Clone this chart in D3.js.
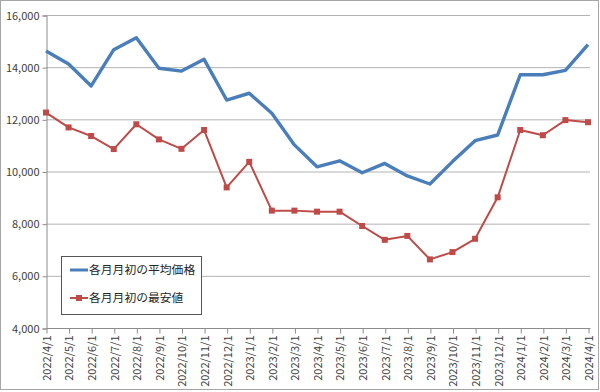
<!DOCTYPE html>
<html><head><meta charset="utf-8">
<script src="https://cdn.jsdelivr.net/npm/d3@7"></script>
<style>
html,body{margin:0;padding:0;background:#fff;}
svg{display:block;}
</style>
</head><body>
<svg id="c" width="600" height="392"></svg>
<script>
const categories = ["2022/4/1","2022/5/1","2022/6/1","2022/7/1","2022/8/1","2022/9/1","2022/10/1","2022/11/1","2022/12/1",
 "2023/1/1","2023/2/1","2023/3/1","2023/4/1","2023/5/1","2023/6/1","2023/7/1","2023/8/1","2023/9/1","2023/10/1","2023/11/1","2023/12/1",
 "2024/1/1","2024/2/1","2024/3/1","2024/4/1"];
const avgPrice = [14620,14120,13280,14670,15130,13960,13850,14300,12740,13000,12230,11020,10180,10410,9950,10310,9830,9520,10380,11180,11400,13710,13710,13880,14860];
const minPrice = [12260,11690,11360,10860,11810,11230,10870,11590,9390,10370,8500,8500,8460,8460,7910,7380,7530,6630,6910,7420,9010,11590,11390,11970,11890];
const yTicks = [4000,6000,8000,10000,12000,14000,16000];
const seriesNames = ["各月月初の平均価格","各月月初の最安値"];

const svg = d3.select("#c");
const font = "'Noto Sans CJK JP','Noto Sans',sans-serif";
const L = 46, R = 588, T = 15, B = 328;

// outer border
svg.append("rect").attr("x",0.5).attr("y",0.5).attr("width",598).attr("height",389)
  .attr("fill","#fff").attr("stroke","#a6a6a6");

const x = d3.scalePoint().domain(categories).range([L, R]);
const y = d3.scaleLinear().domain([4000,16000]).range([B, T]);

// gridlines
svg.append("g").selectAll("line").data(yTicks.filter(d=>d>4000)).join("line")
  .attr("x1",L).attr("x2",590).attr("y1",d=>y(d)+0.5).attr("y2",d=>y(d)+0.5)
  .attr("stroke","#b3b3b3").attr("stroke-width",1);

// y axis
const ya = svg.append("g").attr("transform",`translate(${L+0.5},0.5)`)
  .call(d3.axisLeft(y).tickValues(yTicks).tickFormat(d3.format(",")).tickSize(4).tickPadding(3));
ya.select(".domain").attr("stroke","#8c8c8c");
ya.selectAll(".tick line").attr("stroke","#8c8c8c");
ya.selectAll("text").attr("font-family",font).attr("font-size",11).attr("fill","#404040");

// x axis
const xa = svg.append("g").attr("transform",`translate(0.5,${B+0.5})`)
  .call(d3.axisBottom(x).tickSize(5).tickSizeOuter(0));
xa.select(".domain").attr("stroke","#8c8c8c").attr("d",`M${L},0H${R+2}`);
xa.selectAll(".tick line").attr("stroke","#8c8c8c");
xa.selectAll("text").attr("font-family",font).attr("font-size",11).attr("fill","#404040")
  .attr("transform","rotate(-90)").attr("text-anchor","end").attr("dy","0.35em")
  .attr("x",-7).attr("y",0);

// lines
const line = d3.line().x((d,i)=>x(categories[i])).y(d=>y(d));
svg.append("path").datum(avgPrice).attr("d",line).attr("fill","none")
  .attr("stroke","#4a7ebb").attr("stroke-width",3.4).attr("stroke-linejoin","round");
svg.append("path").datum(minPrice).attr("d",line).attr("fill","none")
  .attr("stroke","#be4b48").attr("stroke-width",2).attr("stroke-linejoin","round");
svg.append("g").selectAll("rect").data(minPrice).join("rect")
  .attr("x",(d,i)=>x(categories[i])-3).attr("y",d=>y(d)-3)
  .attr("width",6).attr("height",6).attr("fill","#be4b48");

// legend
const lg = svg.append("g");
lg.append("rect").attr("x",61.5).attr("y",256.5).attr("width",140).attr("height",58)
  .attr("fill","#fff").attr("stroke","#555").attr("stroke-width",1);
const items = [{n:seriesNames[0],c:"#4a7ebb",w:3,m:false,yy:270},{n:seriesNames[1],c:"#be4b48",w:2,m:true,yy:298}];
items.forEach(it=>{
  lg.append("line").attr("x1",70).attr("x2",88).attr("y1",it.yy).attr("y2",it.yy)
    .attr("stroke",it.c).attr("stroke-width",it.w);
  if(it.m) lg.append("rect").attr("x",76).attr("y",it.yy-3).attr("width",6).attr("height",6).attr("fill",it.c);
  lg.append("text").attr("x",89).attr("y",it.yy).attr("dy","0.35em").text(it.n)
    .attr("font-family",font).attr("font-size",11.8).attr("fill","#262626");
});
</script>
</body></html>
